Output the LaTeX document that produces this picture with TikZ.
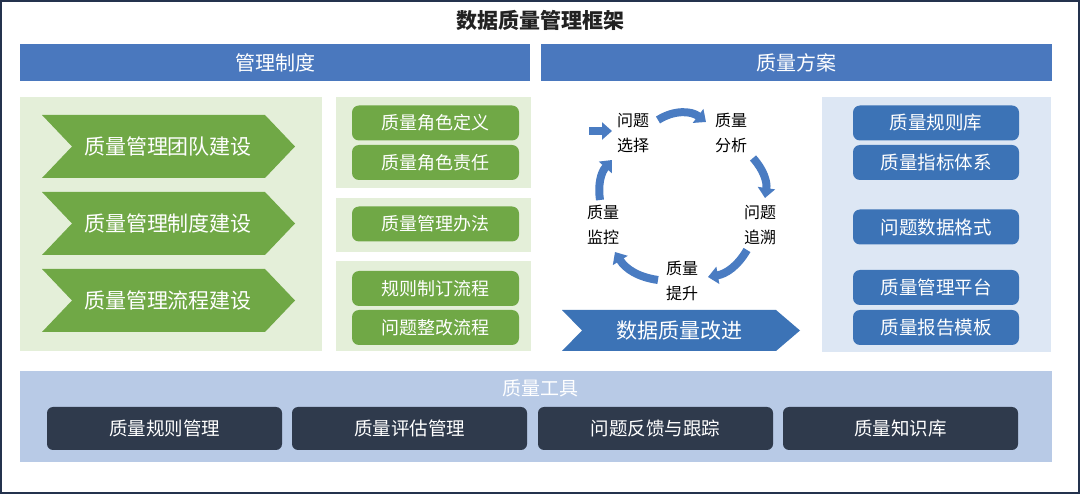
\documentclass[tikz,border=0pt]{standalone}
\usepackage{fontspec}
\setmainfont{Noto Sans CJK SC}
\usetikzlibrary{arrows.meta,calc}
\definecolor{hdrblue}{HTML}{4A78BE}
\definecolor{framecol}{HTML}{24324D}
\definecolor{gpanelcol}{HTML}{E4EFD9}
\definecolor{ggreen}{HTML}{70A846}
\definecolor{bpanelcol}{HTML}{DDE7F4}
\definecolor{bbox}{HTML}{3C73B6}
\definecolor{cycblue}{HTML}{4A7CC2}
\definecolor{toolpanel}{HTML}{B8CAE6}
\definecolor{darkbox}{HTML}{2F3A4C}
\definecolor{titlecol}{HTML}{222222}
\begin{document}
\begin{tikzpicture}[x=1pt,y=-1pt,
  frame/.style={draw=framecol,line width=2pt},
  titletext/.style={font=\fontsize{21}{24}\selectfont\bfseries,text=titlecol},
  hdr/.style={fill=hdrblue,text=white,font=\fontsize{20}{24}\selectfont,minimum width=510,minimum height=37,inner sep=0},
  gpanel/.style={fill=gpanelcol,inner sep=0},
  gbox/.style={fill=ggreen,rounded corners=7,text=white,font=\fontsize{18}{22}\selectfont,minimum width=167,minimum height=35,inner sep=0},
  gchev/.style={fill=ggreen},
  chevtext/.style={text=white,font=\fontsize{21}{24}\selectfont,inner sep=0},
  bpanel/.style={fill=bpanelcol,inner sep=0},
  bluebox/.style={fill=bbox,rounded corners=7,text=white,font=\fontsize{18.5}{22}\selectfont,minimum width=166,minimum height=35,inner sep=0},
  cyclabel/.style={text=black,font=\fontsize{16}{25}\selectfont,align=center,inner sep=2},
  cyc/.style={draw=cycblue,line width=8pt,-{Triangle[width=17pt,length=10pt]}},
  tpanel/.style={fill=toolpanel,inner sep=0},
  dbox/.style={fill=darkbox,rounded corners=6,text=white,font=\fontsize{18.5}{22}\selectfont,minimum width=235,minimum height=43,inner sep=0}
]
\useasboundingbox (0,0) rectangle (1080,494);
\fill[white] (0,0) rectangle (1080,494);
\draw[frame] (1,1) rectangle (1079,493);

\node[titletext] (title) at (540,20) {数据质量管理框架};

\node[hdr] (h1) at (275,62.5) {管理制度};
\node[hdr,minimum width=511] (h2) at (796.5,62.5) {质量方案};

% left green panels
\node[gpanel,minimum width=302,minimum height=254] (p0) at (171,224) {};
\node[gpanel,minimum width=195,minimum height=91] (p1) at (433.5,142.5) {};
\node[gpanel,minimum width=195,minimum height=54] (p2) at (433.5,225) {};
\node[gpanel,minimum width=195,minimum height=90] (p3) at (433.5,306) {};

% chevrons
\fill[gchev] (42,115) -- (265,115) -- (295,146.5) -- (265,178) -- (42,178) -- (72,146.5) -- cycle;
\node[chevtext] (c1) at (168,146.5) {质量管理团队建设};
\fill[gchev] (42,192) -- (265,192) -- (295,223.5) -- (265,255) -- (42,255) -- (72,223.5) -- cycle;
\node[chevtext] (c2) at (168,223.5) {质量管理制度建设};
\fill[gchev] (42,269) -- (265,269) -- (295,300.5) -- (265,332) -- (42,332) -- (72,300.5) -- cycle;
\node[chevtext] (c3) at (168,300.5) {质量管理流程建设};

% green boxes
\node[gbox] (g1) at (435.5,123) {质量角色定义};
\node[gbox] (g2) at (435.5,162.5) {质量角色责任};
\node[gbox] (g3) at (435.5,224) {质量管理办法};
\node[gbox] (g4) at (435.5,288.5) {规则制订流程};
\node[gbox] (g5) at (435.5,327.5) {问题整改流程};

% cycle
\node[cyclabel] (sel) at (633,133) {问题\\选择};
\node[cyclabel] (ana) at (731,133) {质量\\分析};
\node[cyclabel] (zs) at (760,225) {问题\\追溯};
\node[cyclabel] (ts) at (682,281) {质量\\提升};
\node[cyclabel] (jk) at (603,225) {质量\\监控};
\coordinate (startpt) at (589,131);
\draw[cyc] (startpt) -- ([shift={(-21,-2)}]sel.center);
\draw[cyc] ([shift={(25,-13)}]sel.center) to[bend left=35] ([shift={(-25,-11)}]ana.center);
\draw[cyc] ([shift={(22,25)}]ana.center) to[bend left=25] ([shift={(5,-27)}]zs.center);
\draw[cyc] ([shift={(-13,25)}]zs.center) to[bend left=25] ([shift={(26,-4)}]ts.center);
\draw[cyc] ([shift={(-24,-1)}]ts.center) to[bend left=25] ([shift={(12,27)}]jk.center);
\draw[cyc] ([shift={(-3,-25)}]jk.center) to[bend left=25] ([shift={(-21,27)}]sel.center);

% banner
\fill[bbox] (562,310) -- (776,310) -- (800,330.5) -- (776,351) -- (562,351) -- (582,330.5) -- cycle;
\node[chevtext] (ban) at (679,330.5) {数据质量改进};

% right blue panel
\node[bpanel,minimum width=229,minimum height=255] (rp) at (936.5,224.5) {};
\node[bluebox] (b1) at (936,123) {质量规则库};
\node[bluebox] (b2) at (936,162.5) {质量指标体系};
\node[bluebox] (b3) at (936,227) {问题数据格式};
\node[bluebox] (b4) at (936,287.5) {质量管理平台};
\node[bluebox] (b5) at (936,327.5) {质量报告模板};

% tools
\node[tpanel,minimum width=1032,minimum height=91] (tp) at (536,416.5) {};
\node[text=white,font=\fontsize{19}{22}\selectfont] (tt) at (540,388) {质量工具};
\node[dbox] (d1) at (164.5,428.5) {质量规则管理};
\node[dbox] (d2) at (409.5,428.5) {质量评估管理};
\node[dbox] (d3) at (655.5,428.5) {问题反馈与跟踪};
\node[dbox] (d4) at (900.5,428.5) {质量知识库};
\end{tikzpicture}
\end{document}
